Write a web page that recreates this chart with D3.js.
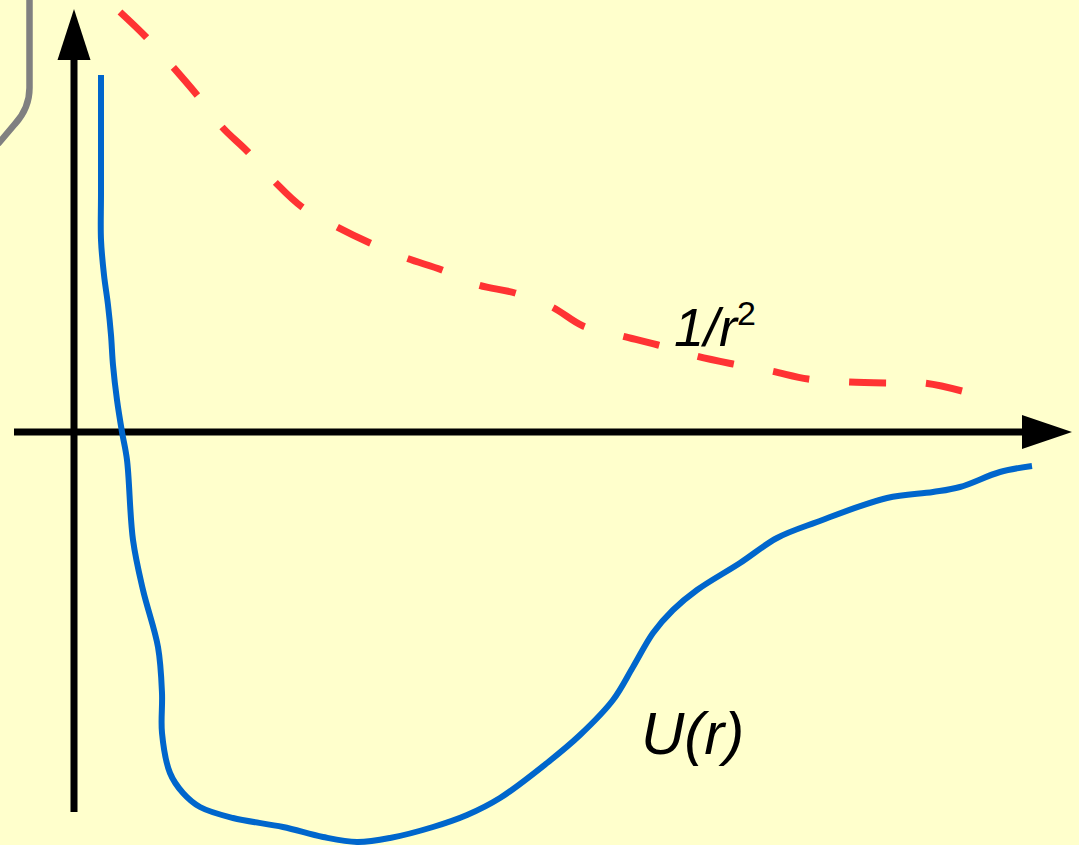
<!DOCTYPE html>
<html>
<head>
<meta charset="utf-8">
<script src="https://cdn.jsdelivr.net/npm/d3@7"></script>
<style>
  html, body { margin: 0; padding: 0; background: #FFFFCC; }
  svg { display: block; }
</style>
</head>
<body>
<svg id="chart" width="1079" height="845"></svg>
<script>
// ---- Data (r in arbitrary units, values in arbitrary units) ----
const potentialR = [2.7, 2.7, 2.7, 3.0, 3.4, 3.7, 3.9, 4.3, 4.8, 5.3, 5.9, 6.9, 8.4, 8.8, 8.8, 9.6, 10.9, 12.6, 15.9, 20.9, 24.9, 28.3, 31.6, 35.9, 39.3, 42.6, 47.3, 50.6, 53.9, 55.9, 57.9, 59.9, 62.3, 66.6, 70.3, 74.3, 81.3, 85.9, 88.6, 92.6, 95.8];
const potentialU = [35.7, 23.9, 19.2, 15.7, 12.7, 9.7, 6.7, 3.2, 0, -2.8, -10.8, -15.8, -21.5, -26.1, -30.1, -34.1, -36.1, -37.5, -38.6, -39.5, -40.5, -41.0, -40.6, -39.5, -38.3, -36.6, -33.1, -30.3, -26.8, -23.5, -20.1, -17.8, -15.8, -13.1, -10.6, -9.0, -6.6, -6.0, -5.5, -4.0, -3.4];

const inverseSqR = [4.6, 7.2, 9.9, 12.3, 14.8, 17.4, 20.1, 22.8, 26.3, 29.6, 33.2, 36.8, 40.4, 44.1, 47.8, 50.9, 54.8, 58.4, 62.2, 65.9, 69.7, 73.4, 77.3, 81.1, 85.0, 88.8];
const inverseSqV = [42.0, 39.5, 36.5, 33.7, 30.5, 28.0, 25.0, 22.5, 20.5, 18.9, 17.4, 16.2, 14.7, 13.9, 12.5, 10.6, 9.6, 8.7, 7.6, 6.8, 6.1, 5.3, 5.0, 4.9, 4.9, 4.1];

const labels = { potential: "U(r)", inverseSq: "1/r", inverseSqExp: "2" };

// ---- Scales ----
const x = d3.scaleLinear().domain([0, 100]).range([74, 1074]);
const y = d3.scaleLinear().domain([-41, 42]).range([842, 12]);

const svg = d3.select("#chart");
svg.append("rect").attr("width", 1079).attr("height", 845).attr("fill", "#FFFFCC");

// decorative gray rounded border fragment (top-left)
svg.append("path")
  .attr("d", "M29.5,0 V88 Q29.5,108 15,124 L-2,144")
  .attr("fill", "none").attr("stroke", "#808080").attr("stroke-width", 6.5);

// ---- Axes with arrows ----
const axisG = svg.append("g");
axisG.append("line")
  .attr("x1", x(0)).attr("x2", x(0))
  .attr("y1", y(-38)).attr("y2", 58)
  .attr("stroke", "#000").attr("stroke-width", 7);
axisG.append("path")
  .attr("d", `M${x(0)},9 L${x(0) + 16.5},60 L${x(0) - 16.5},60 Z`)
  .attr("fill", "#000");
axisG.append("line")
  .attr("x1", x(-6)).attr("x2", 1024)
  .attr("y1", y(0)).attr("y2", y(0))
  .attr("stroke", "#000").attr("stroke-width", 7);
axisG.append("path")
  .attr("d", `M1072,${y(0)} L1022,${y(0) - 17} L1022,${y(0) + 17} Z`)
  .attr("fill", "#000");

// ---- Curves ----
const line = d3.line()
  .x(d => x(d[0])).y(d => y(d[1]))
  .curve(d3.curveCatmullRom.alpha(0.5));

const invData = inverseSqR.map((r, i) => [r, inverseSqV[i]]);
const redPath = svg.append("path")
  .datum(invData)
  .attr("d", line)
  .attr("fill", "none")
  .attr("stroke", "#FF3333")
  .attr("stroke-width", 7)
  .attr("stroke-linecap", "butt");
const L = redPath.node().getTotalLength();
const nDash = 13;
const dash = 37;
const gap = (L - nDash * dash) / (nDash - 1);
redPath.attr("stroke-dasharray", `${dash},${gap}`);

const potData = potentialR.map((r, i) => [r, potentialU[i]]);
svg.append("path")
  .datum(potData)
  .attr("d", line)
  .attr("fill", "none")
  .attr("stroke", "#0066CC")
  .attr("stroke-width", 6)
  .attr("stroke-linejoin", "round");

// ---- Labels ----
const lbl1 = svg.append("text")
  .attr("x", 674).attr("y", 346)
  .attr("font-family", "Liberation Sans, Arial, sans-serif")
  .attr("font-style", "italic")
  .attr("font-size", 54)
  .attr("fill", "#000");
lbl1.append("tspan").text(labels.inverseSq);
lbl1.append("tspan")
  .attr("font-size", 34)
  .attr("dy", -21)
  .attr("font-style", "normal")
  .text(labels.inverseSqExp);

svg.append("text")
  .attr("x", 641).attr("y", 754)
  .attr("font-family", "Liberation Sans, Arial, sans-serif")
  .attr("font-style", "italic")
  .attr("font-size", 60)
  .attr("fill", "#000")
  .text(labels.potential);
</script>
</body>
</html>
